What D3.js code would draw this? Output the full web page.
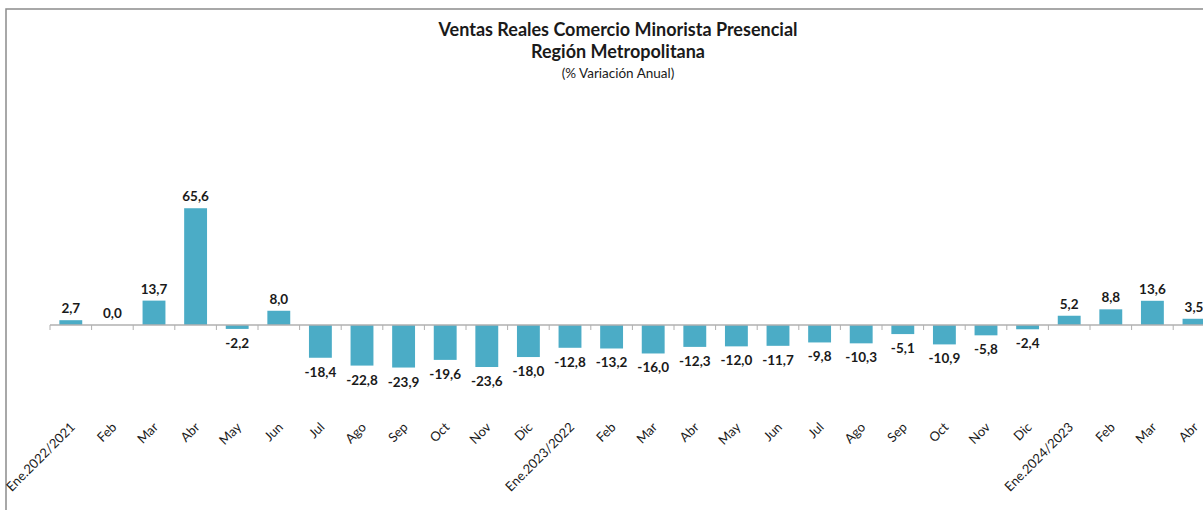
<!DOCTYPE html>
<html>
<head>
<meta charset="utf-8">
<script src="https://cdn.jsdelivr.net/npm/d3@7"></script>
<style>
  html, body { margin: 0; padding: 0; background: #fff; }
  svg { display: block; }
  text { font-family: Lato, "Open Sans", sans-serif; }
</style>
</head>
<body>
<svg id="chart" width="1203" height="510"></svg>
<script>
const categories = ["Ene.2022/2021","Feb","Mar","Abr","May","Jun","Jul","Ago","Sep","Oct","Nov","Dic",
  "Ene.2023/2022","Feb","Mar","Abr","May","Jun","Jul","Ago","Sep","Oct","Nov","Dic",
  "Ene.2024/2023","Feb","Mar","Abr"];
const values = [2.7, 0.0, 13.7, 65.6, -2.2, 8.0, -18.4, -22.8, -23.9, -19.6, -23.6, -18.0,
  -12.8, -13.2, -16.0, -12.3, -12.0, -11.7, -9.8, -10.3, -5.1, -10.9, -5.8, -2.4,
  5.2, 8.8, 13.6, 3.5];
const titleLines = ["Ventas Reales Comercio Minorista Presencial", "Región Metropolitana"];
const subtitle = "(% Variación Anual)";

const svg = d3.select("#chart");
const fmt = v => d3.format(".1f")(v).replace(".", ",").replace("\u2212", "-");

// frame
svg.append("rect").attr("x", 6).attr("y", 9).attr("width", 1300).attr("height", 600)
  .attr("fill", "none").attr("stroke", "#8c8c8c").attr("stroke-width", 1.5);

const idx = d3.range(categories.length);
const x = d3.scaleBand().domain(idx).range([50, 50 + 28 * 41.6])
  .paddingInner(0.45).paddingOuter(0.225);
const y = d3.scaleLinear().domain([-40, 80]).range([325 + 40 * 1.78, 325 - 80 * 1.78]);
const step = x.step();

// titles
const tx = 618;
svg.append("text").attr("x", tx).attr("y", 36).attr("text-anchor", "middle")
  .attr("font-size", 18).attr("font-weight", "bold").attr("fill", "#1a1a1a").text(titleLines[0]);
svg.append("text").attr("x", tx).attr("y", 58).attr("text-anchor", "middle")
  .attr("font-size", 18).attr("font-weight", "bold").attr("fill", "#1a1a1a").text(titleLines[1]);
svg.append("text").attr("x", tx).attr("y", 78).attr("text-anchor", "middle")
  .attr("font-size", 13.5).attr("fill", "#1a1a1a").text(subtitle);

// bars
svg.append("g").selectAll("rect").data(idx).join("rect")
  .attr("x", i => x(i))
  .attr("width", x.bandwidth())
  .attr("y", i => y(Math.max(0, values[i])))
  .attr("height", i => Math.abs(y(values[i]) - y(0)))
  .attr("fill", "#4bacc6");

// axis line and ticks
const y0 = y(0);
const ax = svg.append("g");
ax.append("line").attr("x1", x.range()[0]).attr("x2", x.range()[1])
  .attr("y1", y0).attr("y2", y0).attr("stroke", "#b0b0b0").attr("stroke-width", 1.5);
ax.selectAll("line.tick").data(d3.range(categories.length + 1)).join("line")
  .attr("class", "tick")
  .attr("x1", k => x.range()[0] + k * step).attr("x2", k => x.range()[0] + k * step)
  .attr("y1", y0).attr("y2", y0 + 5).attr("stroke", "#b0b0b0").attr("stroke-width", 1);

// value labels
svg.append("g").selectAll("text").data(idx).join("text")
  .attr("x", i => x(i) + x.bandwidth() / 2)
  .attr("y", i => values[i] >= 0 ? y(values[i]) - 7 : y(values[i]) + 19)
  .attr("text-anchor", "middle")
  .attr("font-size", 13.5).attr("font-weight", "bold").attr("fill", "#1a1a1a")
  .text(i => fmt(values[i]));

// category labels
svg.append("g").selectAll("text").data(idx).join("text")
  .attr("transform", i => `translate(${x(i) + x.bandwidth() / 2 + 5},${428}) rotate(-45)`)
  .attr("text-anchor", "end")
  .attr("font-size", 13).attr("fill", "#1a1a1a")
  .text(i => categories[i]);
</script>
</body>
</html>
